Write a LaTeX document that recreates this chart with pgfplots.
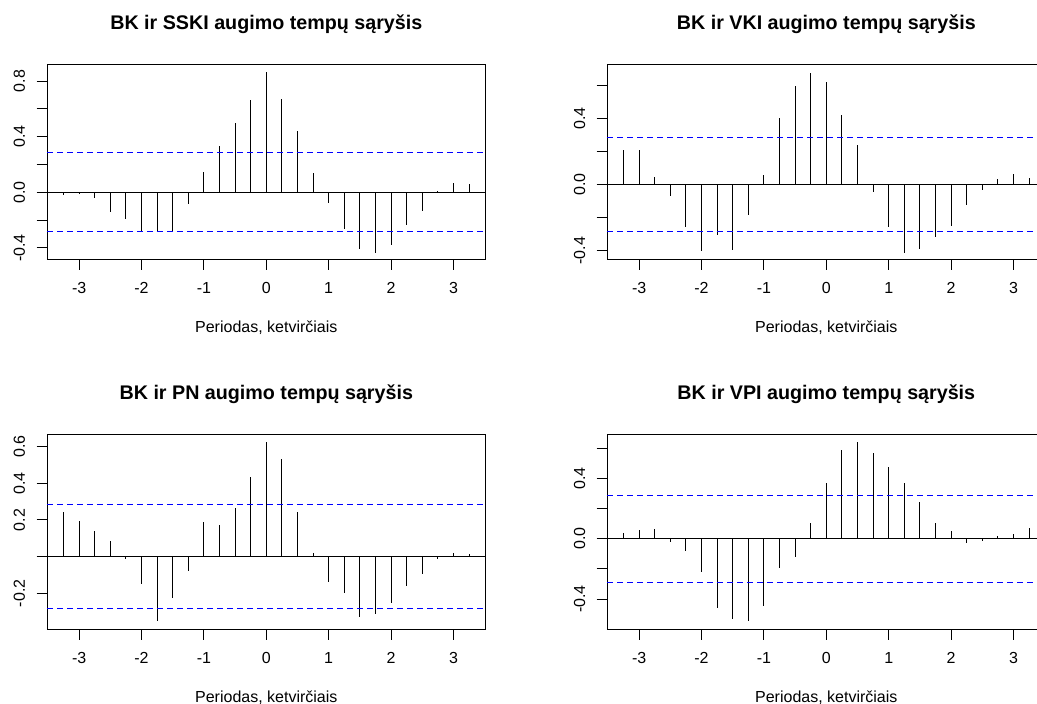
\documentclass[border=0pt]{standalone}
\usepackage{fontspec}
\setmainfont{Liberation Sans}
\usepackage{pgfplots}
\usepackage{pgfplotstable}
\pgfplotsset{compat=1.18}
\definecolor{rblue}{RGB}{0,0,255}

% cross-correlations, lags in years (quarters/4)
\pgfplotstableread{
lag    sski    vki     pn      vpi
-3.25  -0.020  0.208   0.241   0.040
-3.00  -0.015  0.208   0.197   0.057
-2.75  -0.040  0.046   0.138   0.066
-2.50  -0.145  -0.067  0.087   -0.020
-2.25  -0.190  -0.257  -0.011  -0.084
-2.00  -0.285  -0.402  -0.152  -0.218
-1.75  -0.285  -0.307  -0.353  -0.462
-1.50  -0.280  -0.394  -0.225  -0.534
-1.25  -0.085  -0.182  -0.076  -0.547
-1.00  0.147   0.061   0.190   -0.446
-0.75  0.337   0.402   0.172   -0.193
-0.50  0.502   0.598   0.268   -0.123
-0.25  0.666   0.677   0.437   0.103
0.00   0.863   0.620   0.627   0.371
0.25   0.673   0.424   0.534   0.585
0.50   0.442   0.242   0.241   0.640
0.75   0.139   -0.046  0.022   0.567
1.00   -0.077  -0.257  -0.141  0.475
1.25   -0.264  -0.414  -0.199  0.371
1.50   -0.411  -0.388  -0.330  0.246
1.75   -0.437  -0.315  -0.315  0.103
2.00   -0.377  -0.248  -0.252  0.048
2.25   -0.238  -0.125  -0.159  -0.026
2.50   -0.137  -0.032  -0.096  -0.015
2.75   0.010   0.032   -0.011  0.018
3.00   0.070   0.063   0.022   0.033
3.25   0.060   0.040   0.014   0.073
}\ccf

\pgfplotsset{
  ccfpanel/.style={
    scale only axis, width=438pt, height=194.5pt,
    anchor=south west, clip=false,
    xmin=-3.51, xmax=3.51,
    axis line style={line width=1.1pt},
    tick style={black, line width=1pt},
    tick align=outside, major tick length=10.6pt,
    xtick pos=left, ytick pos=left,
    xtick={-3,-2,-1,0,1,2,3},
    xticklabels={-3,-2,-1,0,1,2,3},
    tick label style={font=\fontsize{16}{19}\selectfont},
    xticklabel style={anchor=base}, xticklabel shift=24.1pt,
    yticklabel style={rotate=90, anchor=base}, yticklabel shift=11.7pt,
    xlabel={Periodas, ketvirčiais},
    xlabel style={at={(axis description cs:0.5,0)}, anchor=base, yshift=-73pt,
      font=\fontsize{16}{19}\selectfont},
    title style={at={(axis description cs:0.5,1)}, anchor=base, yshift=29.5pt,
      font=\bfseries\fontsize{19.7}{23}\selectfont},
  },
  stem/.style={ycomb, color=black, line width=1.1pt, no marks},
  zero/.style={color=black, line width=1pt, no marks},
  ci/.style={color=rblue, line width=1pt, no marks, dash pattern=on 6pt off 4pt},
}

\begin{document}
\begin{tikzpicture}
\useasboundingbox (0,0) rectangle (1037pt,704pt);

\begin{axis}[ccfpanel, at={(47.3pt,444.7pt)},
  title={BK ir SSKI augimo tempų sąryšis},
  ymin=-0.482, ymax=0.918,
  ytick={-0.4,-0.2,0,0.2,0.4,0.6,0.8},
  yticklabels={-0.4,,0.0,,0.4,,0.8}]
\addplot[zero] coordinates {(-3.51,0) (3.51,0)};
\addplot[stem] table[x=lag, y=sski] {\ccf};
\addplot[ci] coordinates {(-3.51,0.285) (3.51,0.285)};
\addplot[ci] coordinates {(-3.51,-0.285) (3.51,-0.285)};
\end{axis}

\begin{axis}[ccfpanel, at={(607.3pt,444.7pt)},
  title={BK ir VKI augimo tempų sąryšis},
  ymin=-0.452, ymax=0.725,
  ytick={-0.4,-0.2,0,0.2,0.4,0.6},
  yticklabels={-0.4,,0.0,,0.4,}]
\addplot[zero] coordinates {(-3.51,0) (3.51,0)};
\addplot[stem] table[x=lag, y=vki] {\ccf};
\addplot[ci] coordinates {(-3.51,0.286) (3.51,0.286)};
\addplot[ci] coordinates {(-3.51,-0.286) (3.51,-0.286)};
\end{axis}

\begin{axis}[ccfpanel, at={(47.3pt,74.7pt)},
  title={BK ir PN augimo tempų sąryšis},
  ymin=-0.397, ymax=0.665,
  ytick={-0.2,0,0.2,0.4,0.6},
  yticklabels={-0.2,,0.2,0.4,0.6}]
\addplot[zero] coordinates {(-3.51,0) (3.51,0)};
\addplot[stem] table[x=lag, y=pn] {\ccf};
\addplot[ci] coordinates {(-3.51,0.282) (3.51,0.282)};
\addplot[ci] coordinates {(-3.51,-0.282) (3.51,-0.282)};
\end{axis}

\begin{axis}[ccfpanel, at={(607.3pt,74.7pt)},
  title={BK ir VPI augimo tempų sąryšis},
  ymin=-0.600, ymax=0.688,
  ytick={-0.4,-0.2,0,0.2,0.4,0.6},
  yticklabels={-0.4,,0.0,,0.4,}]
\addplot[zero] coordinates {(-3.51,0) (3.51,0)};
\addplot[stem] table[x=lag, y=vpi] {\ccf};
\addplot[ci] coordinates {(-3.51,0.288) (3.51,0.288)};
\addplot[ci] coordinates {(-3.51,-0.288) (3.51,-0.288)};
\end{axis}
\end{tikzpicture}
\end{document}
